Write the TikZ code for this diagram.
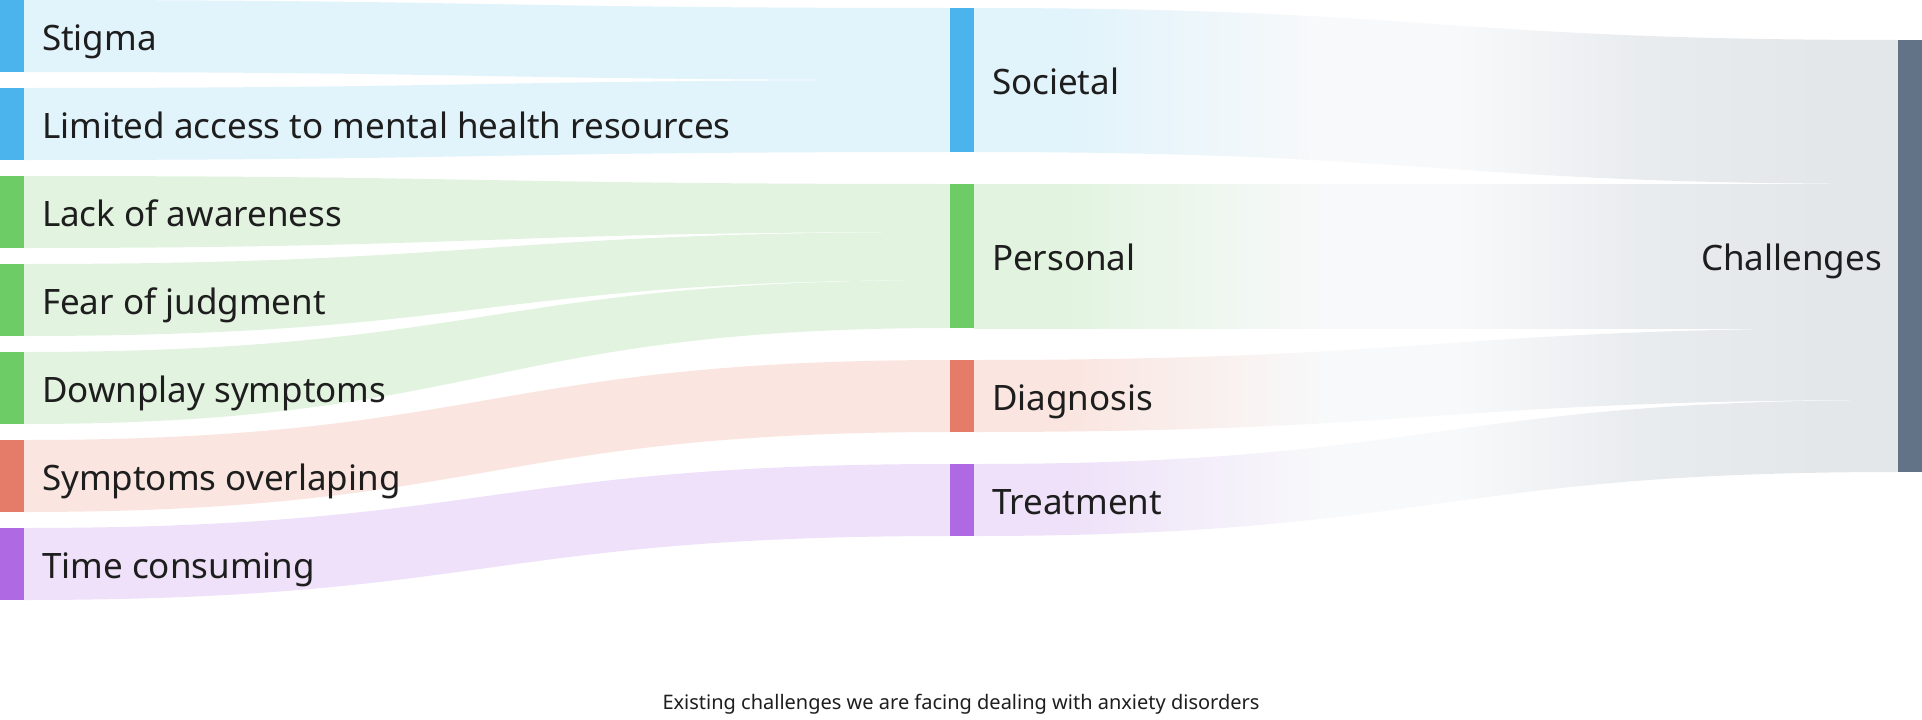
\documentclass[tikz,border=0pt]{standalone}
\usepackage{fontspec}
\setmainfont{Noto Sans}
\newfontfamily\capfont{Noto Sans}
\usetikzlibrary{calc,backgrounds}
\definecolor{blueD}{HTML}{4BB4EC}
\definecolor{blueL}{HTML}{E1F3FB}
\definecolor{greenD}{HTML}{6ECC67}
\definecolor{greenL}{HTML}{E2F4E0}
\definecolor{redD}{HTML}{E57C69}
\definecolor{redL}{HTML}{FAE5E0}
\definecolor{purD}{HTML}{AF69E2}
\definecolor{purL}{HTML}{EEE1F9}
\definecolor{slate}{HTML}{627387}
\definecolor{grayL}{HTML}{E3E7EA}
\definecolor{grayM}{HTML}{E9ECEF}
\definecolor{whitish}{HTML}{F8F9FA}
\definecolor{txt}{HTML}{1E1E1E}
\pgfdeclarehorizontalshading{blueshade}{100bp}{color(0bp)=(blueL); color(25bp)=(blueL); color(30bp)=(blueL); color(44bp)=(whitish); color(51bp)=(whitish); color(61bp)=(grayM); color(71bp)=(grayL); color(100bp)=(grayL)}
\pgfdeclarehorizontalshading{greenshade}{100bp}{color(0bp)=(greenL); color(25bp)=(greenL); color(30bp)=(greenL); color(44bp)=(whitish); color(51bp)=(whitish); color(61bp)=(grayM); color(71bp)=(grayL); color(100bp)=(grayL)}
\pgfdeclarehorizontalshading{redshade}{100bp}{color(0bp)=(redL); color(25bp)=(redL); color(30bp)=(redL); color(44bp)=(whitish); color(51bp)=(whitish); color(61bp)=(grayM); color(71bp)=(grayL); color(100bp)=(grayL)}
\pgfdeclarehorizontalshading{purshade}{100bp}{color(0bp)=(purL); color(25bp)=(purL); color(30bp)=(purL); color(44bp)=(whitish); color(51bp)=(whitish); color(61bp)=(grayM); color(71bp)=(grayL); color(100bp)=(grayL)}
% #1 fill options, #2 source node, #3 target node, #4/#5 top/bottom offset below target top
\newcommand\linkflow[5]{%
  \path[#1] let \p1=(#2.north east), \p2=(#2.south east),
    \p3=([yshift=-#4]#3.north west), \p4=([yshift=-#5]#3.north west),
    \n1={0.5*(\x1+\x3)} in
    (\p1) .. controls (\n1,\y1) and (\n1,\y3) .. (\p3) -- (\p4)
    .. controls (\n1,\y4) and (\n1,\y2) .. (\p2) -- cycle;}
\tikzset{
  bar/.style={rectangle, inner sep=0pt, outer sep=0pt, minimum width=24pt, anchor=north west, draw=none},
  lbl/.style={inner sep=0pt, outer sep=0pt, text=txt, font=\fontsize{35}{38}\selectfont},
}
\begin{document}
\begin{tikzpicture}[x=1pt,y=-1pt]
\useasboundingbox (0,0) rectangle (1922,720);
% left nodes
\node[bar, fill=blueD, minimum height=72pt] (stigma) at (0,0) {};
\node[bar, fill=blueD, minimum height=72pt] (limited) at (0,88) {};
\node[bar, fill=greenD, minimum height=72pt] (lack) at (0,176) {};
\node[bar, fill=greenD, minimum height=72pt] (fear) at (0,264) {};
\node[bar, fill=greenD, minimum height=72pt] (downplay) at (0,352) {};
\node[bar, fill=redD, minimum height=72pt] (overlap) at (0,440) {};
\node[bar, fill=purD, minimum height=72pt] (timec) at (0,528) {};
% middle nodes
\node[bar, fill=blueD, minimum height=144pt] (soc) at (950,8) {};
\node[bar, fill=greenD, minimum height=144pt] (pers) at (950,184) {};
\node[bar, fill=redD, minimum height=72pt] (diag) at (950,360) {};
\node[bar, fill=purD, minimum height=72pt] (treat) at (950,464) {};
% right node
\node[bar, fill=slate, minimum height=432pt] (chal) at (1898,40) {};
% flows
\begin{pgfonlayer}{background}
\linkflow{fill=blueL}{stigma}{soc}{0pt}{72pt}
\linkflow{fill=blueL}{limited}{soc}{72pt}{144pt}
\linkflow{fill=greenL}{lack}{pers}{0pt}{48pt}
\linkflow{fill=greenL}{fear}{pers}{48pt}{96pt}
\linkflow{fill=greenL}{downplay}{pers}{96pt}{144pt}
\linkflow{fill=redL}{overlap}{diag}{0pt}{72pt}
\linkflow{fill=purL}{timec}{treat}{0pt}{72pt}
\linkflow{shading=blueshade}{soc}{chal}{0pt}{144pt}
\linkflow{shading=greenshade}{pers}{chal}{144pt}{288pt}
\linkflow{shading=redshade}{diag}{chal}{288pt}{360pt}
\linkflow{shading=purshade}{treat}{chal}{360pt}{432pt}
\end{pgfonlayer}
% labels
\node[lbl, anchor=base west] (tstigma) at ([xshift=18pt,yshift=-14pt]stigma.east) {Stigma};
\node[lbl, anchor=base west] (tlimited) at ([xshift=18pt,yshift=-14pt]limited.east) {Limited access to mental health resources};
\node[lbl, anchor=base west] (tlack) at ([xshift=18pt,yshift=-14pt]lack.east) {Lack of awareness};
\node[lbl, anchor=base west] (tfear) at ([xshift=18pt,yshift=-14pt]fear.east) {Fear of judgment};
\node[lbl, anchor=base west] (tdown) at ([xshift=18pt,yshift=-14pt]downplay.east) {Downplay symptoms};
\node[lbl, anchor=base west] (tover) at ([xshift=18pt,yshift=-14pt]overlap.east) {Symptoms overlaping};
\node[lbl, anchor=base west] (ttime) at ([xshift=18pt,yshift=-14pt]timec.east) {Time consuming};
\node[lbl, anchor=base west] (tsoc) at ([xshift=18pt,yshift=-14pt]soc.east) {Societal};
\node[lbl, anchor=base west] (tpers) at ([xshift=18pt,yshift=-14pt]pers.east) {Personal};
\node[lbl, anchor=base west] (tdiag) at ([xshift=18pt,yshift=-14pt]diag.east) {Diagnosis};
\node[lbl, anchor=base west] (ttreat) at ([xshift=18pt,yshift=-14pt]treat.east) {Treatment};
\node[lbl, anchor=base east] (tchal) at ([xshift=-16pt,yshift=-14pt]chal.west |- pers.east) {Challenges};
\node[inner sep=0pt, text=txt, font=\capfont\fontsize{20}{22}\selectfont, anchor=base] (caption) at (961,709) {Existing challenges we are facing dealing with anxiety disorders};
\end{tikzpicture}
\end{document}
